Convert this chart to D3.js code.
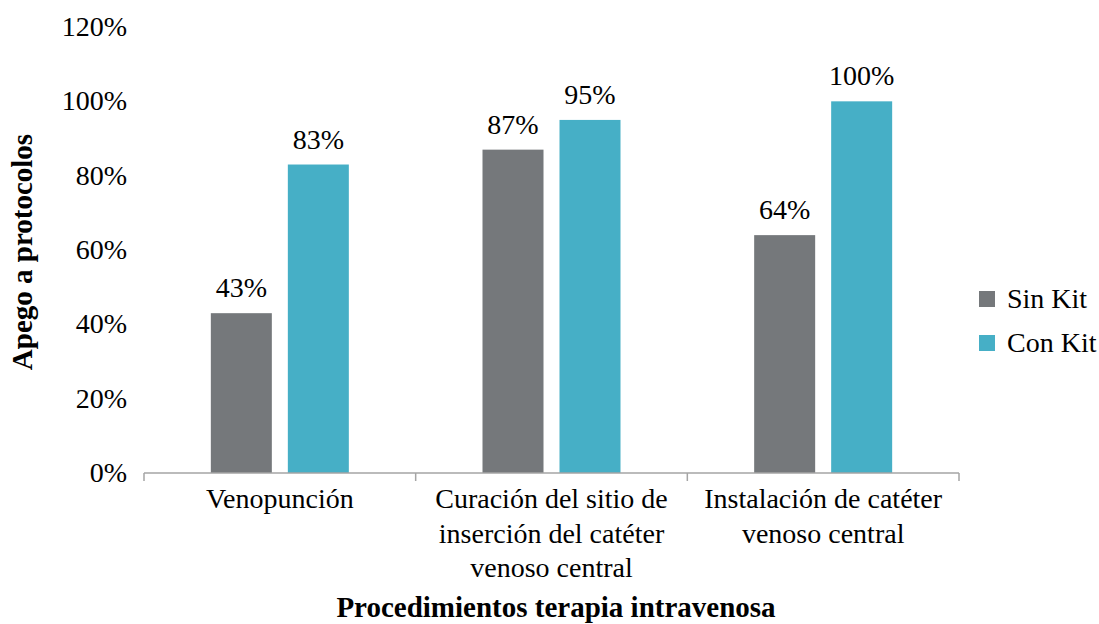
<!DOCTYPE html>
<html>
<head>
<meta charset="utf-8">
<script src="https://cdn.jsdelivr.net/npm/d3@7"></script>
<style>
  body { margin: 0; background: #fff; }
</style>
</head>
<body>
<svg id="chart" width="1099" height="624"></svg>
<script>
// Data
const categories = [
    ["Venopunción"],
    ["Curación del sitio de", "inserción del catéter", "venoso central"],
    ["Instalación de catéter", "venoso central"]
];
const seriesNames = ["Sin Kit", "Con Kit"];
const sinKit = [0.43, 0.87, 0.64];
const conKit = [0.83, 0.95, 1.00];
const yTicks = [0, 0.2, 0.4, 0.6, 0.8, 1.0, 1.2];

const colors = ["#75787b", "#46afc6"];
const fontSize = 28;
const serif = "'Liberation Serif'";

const svg = d3.select("#chart");
const plot = {left: 144, right: 959, top: 27, bottom: 473};

const x = d3.scaleBand()
    .domain(d3.range(categories.length))
    .range([plot.left, plot.right]);

const y = d3.scaleLinear()
    .domain([0, 1.2])
    .range([plot.bottom, plot.top]);

// bars inside each band
const barW = 61, barGap = 16;
const groupW = barW * 2 + barGap;

const data = categories.map((c, i) => ({i, values: [sinKit[i], conKit[i]]}));

const groups = svg.selectAll("g.grp")
    .data(data)
    .enter()
    .append("g")
    .attr("class", "grp")
    .attr("transform", d => `translate(${x(d.i) + (x.bandwidth() - groupW) / 2},0)`);

groups.selectAll("rect")
    .data(d => d.values)
    .enter()
    .append("rect")
    .attr("x", (v, j) => j * (barW + barGap))
    .attr("y", v => y(v))
    .attr("width", barW)
    .attr("height", v => y(0) - y(v))
    .attr("fill", (v, j) => colors[j]);

groups.selectAll("text.val")
    .data(d => d.values)
    .enter()
    .append("text")
    .attr("class", "val")
    .attr("x", (v, j) => j * (barW + barGap) + barW / 2)
    .attr("y", v => y(v) - 16)
    .attr("text-anchor", "middle")
    .attr("font-size", fontSize)
    .style("font-family", serif)
    .attr("fill", "#000")
    .text(v => Math.round(v * 100) + "%");

// y tick labels (no axis line)
svg.append("g")
    .selectAll("text")
    .data(yTicks)
    .enter()
    .append("text")
    .attr("x", 127)
    .attr("y", d => y(d) + 9)
    .attr("text-anchor", "end")
    .attr("font-size", fontSize)
    .style("font-family", serif)
    .text(d => Math.round(d * 100) + "%");

// x axis line with ticks between categories
const xAxis = svg.append("g");
xAxis.append("line")
    .attr("x1", plot.left).attr("x2", plot.right)
    .attr("y1", plot.bottom).attr("y2", plot.bottom)
    .attr("stroke", "#a5a5a5").attr("stroke-width", 1.5);

const tickPos = d3.range(categories.length + 1).map(i => plot.left + i * x.step());
xAxis.selectAll("line.tick")
    .data(tickPos)
    .enter()
    .append("line")
    .attr("class", "tick")
    .attr("x1", d => d).attr("x2", d => d)
    .attr("y1", plot.bottom).attr("y2", plot.bottom + 8)
    .attr("stroke", "#a5a5a5").attr("stroke-width", 1.5);

// category labels
const catLabels = xAxis.selectAll("text.cat")
    .data(categories)
    .enter()
    .append("text")
    .attr("class", "cat")
    .attr("text-anchor", "middle")
    .attr("font-size", fontSize)
    .style("font-family", serif)
    .attr("transform", (d, i) => `translate(${x(i) + x.bandwidth() / 2},508)`);

catLabels.selectAll("tspan")
    .data(d => d)
    .enter()
    .append("tspan")
    .attr("x", 0)
    .attr("dy", (d, k) => k === 0 ? 0 : 34.5)
    .text(d => d);

// axis titles
svg.append("text")
    .attr("x", 556).attr("y", 617)
    .attr("text-anchor", "middle")
    .attr("font-size", 29)
    .style("font-family", serif)
    .attr("font-weight", "bold")
    .text("Procedimientos terapia intravenosa");

svg.append("text")
    .attr("transform", "translate(32,252) rotate(-90)")
    .attr("text-anchor", "middle")
    .attr("font-size", 29)
    .style("font-family", serif)
    .attr("font-weight", "bold")
    .text("Apego a protocolos");

// legend
const legend = svg.append("g")
    .selectAll("g")
    .data(seriesNames)
    .enter()
    .append("g")
    .attr("transform", (d, i) => `translate(979,${291 + i * 44})`);

legend.append("rect")
    .attr("width", 16).attr("height", 16)
    .attr("fill", (d, i) => colors[i]);

legend.append("text")
    .attr("x", 28).attr("y", 17)
    .attr("font-size", fontSize)
    .style("font-family", serif)
    .text(d => d);
</script>
</body>
</html>
